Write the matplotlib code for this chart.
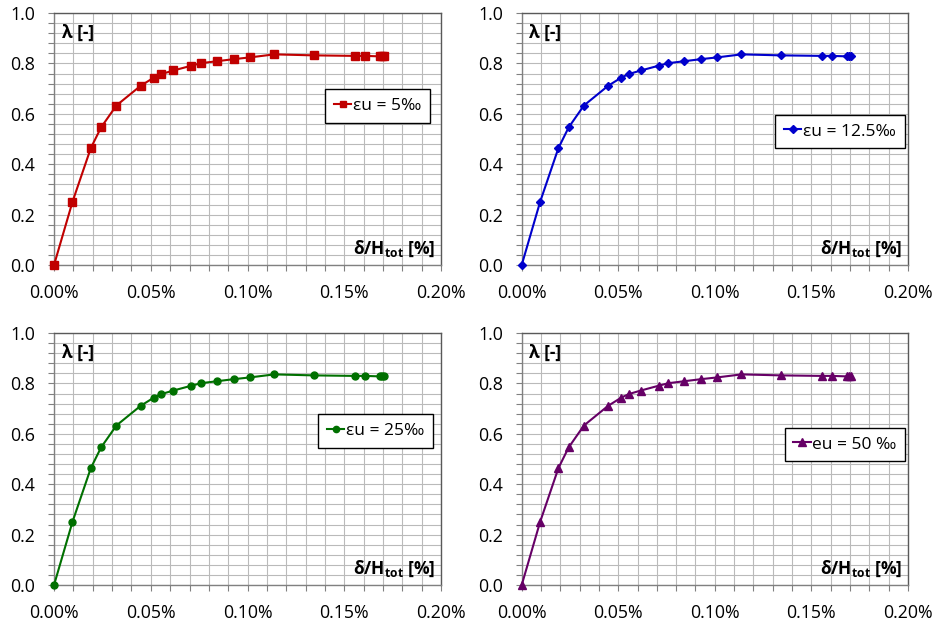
import matplotlib
matplotlib.use('Agg')
import matplotlib.pyplot as plt
from matplotlib.ticker import MultipleLocator, FuncFormatter

plt.rcParams['font.family'] = ['Open Sans', 'DejaVu Sans']
plt.rcParams['mathtext.fontset'] = 'custom'
plt.rcParams['mathtext.rm'] = 'Open Sans'
plt.rcParams['mathtext.bf'] = 'Open Sans:bold'

# drift delta/H_tot [%] and load factor lambda [-]
drift = [0.0, 0.0095, 0.019, 0.0243, 0.0322, 0.0447, 0.0516, 0.0555, 0.0617,
         0.0709, 0.0759, 0.0843, 0.0928, 0.1012, 0.1138, 0.1345, 0.1555,
         0.1607, 0.1686, 0.1697, 0.1707]
lam = [0.0, 0.250, 0.464, 0.546, 0.633, 0.711, 0.744, 0.758, 0.772,
       0.791, 0.801, 0.809, 0.817, 0.824, 0.836, 0.832, 0.830,
       0.830, 0.828, 0.828, 0.828]

labels = ['εu = 5‰', 'εu = 12.5‰', 'εu = 25‰', 'eu = 50 ‰']
colors = ['#C00000', '#0000CC', '#007000', '#660066']
markers = ['s', 'D', 'o', '^']
msizes = [5.5, 4, 5, 6]

# axes rectangles in figure fraction and legend centres in axes fraction
rects = [[0.0578, 0.574, 0.414, 0.405], [0.558, 0.574, 0.413, 0.405],
         [0.0578, 0.0595, 0.414, 0.405], [0.558, 0.0595, 0.413, 0.405]]
leg_pos = [(0.836, 0.631), (0.824, 0.530), (0.831, 0.611), (0.837, 0.558)]

fig = plt.figure(figsize=(9.35, 6.22), dpi=100)

for i in range(4):
    ax = fig.add_axes(rects[i])
    ax.plot(drift, lam, color=colors[i], marker=markers[i], markersize=msizes[i],
            linewidth=1.5, label=labels[i], zorder=3, clip_on=False)
    ax.set_xlim(0, 0.2)
    ax.set_ylim(0, 1.0)
    ax.xaxis.set_major_locator(MultipleLocator(0.05))
    ax.xaxis.set_minor_locator(MultipleLocator(0.01))
    ax.yaxis.set_major_locator(MultipleLocator(0.2))
    ax.yaxis.set_minor_locator(MultipleLocator(0.04))
    ax.xaxis.set_major_formatter(FuncFormatter(lambda v, p: '%.2f%%' % v))
    ax.yaxis.set_major_formatter(FuncFormatter(lambda v, p: '%.1f' % v))
    ax.grid(which='both', color='#bababa', linewidth=0.8, zorder=0)
    ax.set_axisbelow(True)
    ax.tick_params(axis='x', which='both', direction='out', length=4, width=0.8,
                   color='#808080', pad=10, labelsize=12.8)
    ax.tick_params(axis='y', which='both', direction='out', length=4.5, width=0.8,
                   color='#808080', pad=9, labelsize=12.8)
    for s in ax.spines.values():
        s.set_color('#595959')
        s.set_linewidth(1)
    ax.spines['left'].set_color('#808080')
    ax.spines['bottom'].set_color('#808080')

    ax.text(0.02, 0.92, 'λ [-]', transform=ax.transAxes, fontsize=12.5,
            fontweight='bold', ha='left', va='center')
    ax.text(0.985, 0.065, r'δ/H$_{\mathbf{tot}}$ [%]', transform=ax.transAxes,
            fontsize=12.5, fontweight='bold', ha='right', va='center')

    leg = ax.legend(loc='center', bbox_to_anchor=leg_pos[i], fontsize=12.5,
                    fancybox=False, edgecolor='black', framealpha=1,
                    handlelength=1.0, handletextpad=0.1, borderpad=0.5,
                    markerscale=0.9)
    leg.get_frame().set_linewidth(1)

fig.savefig('out.png', dpi=100)
